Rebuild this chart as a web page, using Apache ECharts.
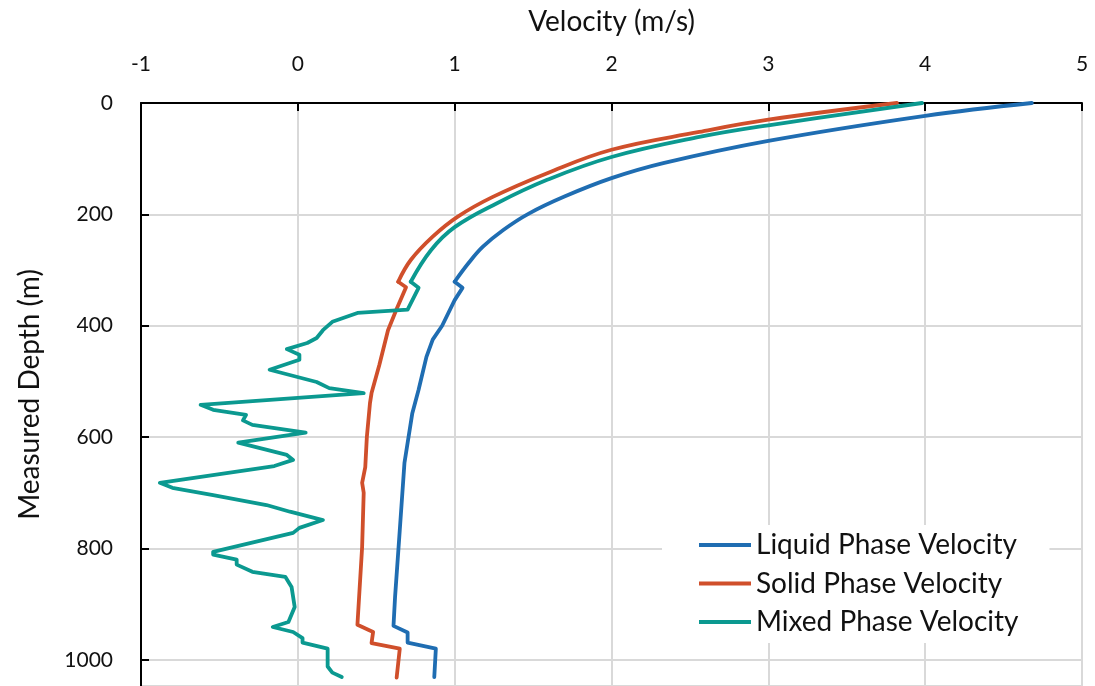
<!DOCTYPE html>
<html>
<head>
<meta charset="utf-8">
<title>Velocity profile vs measured depth</title>
<script src="https://cdn.jsdelivr.net/npm/echarts@6/dist/echarts.min.js"></script>
<style>
  html, body { margin: 0; padding: 0; background: #fff; }
  #chart { width: 1095px; height: 686px; }
</style>
</head>
<body>
<div id="chart"></div>
<script>
// Liquid phase velocity (m/s) against measured depth (m)
const liquidDepth = [0, 23, 68, 108, 135, 168, 199, 228, 258, 287, 321, 332, 354, 400, 425, 456, 515, 557, 646, 767, 887, 939, 951, 969, 980, 1031];
const liquidVel   = [4.68, 4.00, 3.00, 2.33, 2.00, 1.70, 1.47, 1.31, 1.18, 1.09, 1.00, 1.05, 1.00, 0.92, 0.86, 0.82, 0.77, 0.73, 0.68, 0.65, 0.62, 0.61, 0.70, 0.70, 0.88, 0.87];

// Solid phase velocity
const solidDepth = [0, 30, 52, 84, 126, 169, 204, 240, 282, 321, 331, 370, 408, 470, 521, 539, 600, 654, 682, 700, 797, 937, 950, 970, 980, 1032];
const solidVel   = [3.82, 3.00, 2.56, 2.00, 1.59, 1.24, 1.02, 0.86, 0.72, 0.64, 0.69, 0.63, 0.575, 0.52, 0.47, 0.46, 0.44, 0.43, 0.41, 0.42, 0.41, 0.38, 0.48, 0.47, 0.65, 0.63];

// Mixed phase velocity
const mixedDepth = [0, 40, 61, 97, 138, 180, 223, 264, 321, 332, 371, 377, 393, 408, 422, 431, 442, 452, 461, 479, 501, 512, 521, 542, 551, 560, 570, 578, 592, 610, 632, 641, 652, 682, 691, 704, 713, 722, 734, 749, 763, 772, 806, 811, 820, 829, 842, 851, 869, 905, 932, 941, 950, 961, 969, 980, 1012, 1023, 1031];
const mixedVel   = [3.98, 3.00, 2.56, 2.00, 1.59, 1.27, 1.00, 0.85, 0.72, 0.77, 0.70, 0.38, 0.22, 0.16, 0.12, 0.06, -0.07, 0.01, 0.01, -0.18, 0.12, 0.20, 0.42, -0.62, -0.54, -0.33, -0.35, -0.29, 0.05, -0.38, -0.07, -0.03, -0.15, -0.88, -0.80, -0.54, -0.37, -0.20, -0.05, 0.16, 0.01, -0.03, -0.54, -0.54, -0.39, -0.39, -0.29, -0.08, -0.04, -0.02, -0.06, -0.16, -0.03, 0.03, 0.03, 0.19, 0.19, 0.22, 0.28];

const seriesNames = ['Liquid Phase Velocity', 'Solid Phase Velocity', 'Mixed Phase Velocity'];
const seriesColors = ['#1f6db2', '#d04f2b', '#0b9990'];

// Depth where the smooth upper profile ends and the stepped lower profile begins
const upperProfileEnd = 321;

const velTicks = { min: -1, max: 5, step: 1 };
const depthTicks = { min: 0, max: 1047, step: 200 };

const FONT = 'Lato, "Open Sans", sans-serif';
const TEXT = '#111';

function pairs(vel, depth) {
  return vel.map((v, i) => [v, depth[i]]);
}

function lineSeries(name, color, data, smooth) {
  return {
    name: name,
    type: 'line',
    data: data,
    smooth: smooth,
    showSymbol: false,
    symbol: 'none',
    lineStyle: { width: 3.8, color: color, join: 'round', cap: 'round' },
    itemStyle: { color: color },
    emphasis: { disabled: true },
    animation: false
  };
}

// Each profile: a smoothly curved upper part and a piecewise lower part
const profiles = [
  [liquidVel, liquidDepth],
  [solidVel, solidDepth],
  [mixedVel, mixedDepth]
];
const series = [];
profiles.forEach(([vel, depth], i) => {
  const data = pairs(vel, depth);
  const k = depth.indexOf(upperProfileEnd);
  series.push(lineSeries(seriesNames[i], seriesColors[i], data.slice(0, k + 1), 0.4));
  series.push(lineSeries(seriesNames[i], seriesColors[i], data.slice(k), false));
});

const chart = echarts.init(document.getElementById('chart'), null, { renderer: 'canvas' });

chart.setOption({
  animation: false,
  backgroundColor: '#fff',
  grid: { left: 141, top: 103, width: 941, height: 583.2, containLabel: false },
  xAxis: {
    type: 'value',
    position: 'top',
    min: velTicks.min,
    max: velTicks.max,
    interval: velTicks.step,
    name: 'Velocity (m/s)',
    nameLocation: 'middle',
    nameGap: 67,
    nameTextStyle: { fontFamily: FONT, fontSize: 28, color: TEXT },
    axisLine: { onZero: false, lineStyle: { color: '#000', width: 2 } },
    axisTick: { inside: true, length: 8, lineStyle: { color: '#000', width: 2 } },
    axisLabel: { margin: 28, fontFamily: FONT, fontSize: 21, color: TEXT },
    splitLine: { show: true, lineStyle: { color: '#d9d9d9', width: 2 } }
  },
  yAxis: {
    type: 'value',
    inverse: true,
    min: depthTicks.min,
    max: depthTicks.max,
    interval: depthTicks.step,
    name: 'Measured Depth (m)',
    nameLocation: 'middle',
    nameGap: 97,
    nameTextStyle: { fontFamily: FONT, fontSize: 28, color: TEXT },
    axisLine: { onZero: false, lineStyle: { color: '#000', width: 2 } },
    axisTick: { inside: true, length: 8, lineStyle: { color: '#000', width: 2 } },
    axisLabel: {
      margin: 28, fontFamily: FONT, fontSize: 21, color: TEXT, showMaxLabel: false,
      formatter: v => (v % depthTicks.step === 0 ? String(v) : '')
    },
    splitLine: { show: true, lineStyle: { color: '#d9d9d9', width: 2 } }
  },
  legend: {
    data: seriesNames,
    orient: 'vertical',
    left: 662,
    top: 525,
    padding: [5, 31, 6, 37],
    backgroundColor: '#fff',
    icon: 'rect',
    itemWidth: 52,
    itemHeight: 4,
    itemGap: 8.5,
    textStyle: { fontFamily: FONT, fontSize: 28, color: TEXT, lineHeight: 30 },
    selectedMode: false
  },
  series: series
});
</script>
</body>
</html>
